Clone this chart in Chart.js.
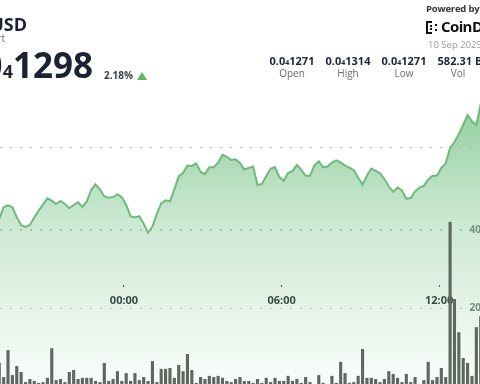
<!DOCTYPE html>
<html>
<head>
<meta charset="utf-8">
<script src="https://cdn.jsdelivr.net/npm/chart.js@4.4.1/dist/chart.umd.min.js"></script>
<style>
  html, body { margin: 0; padding: 0; width: 480px; height: 384px; overflow: hidden; background: #fff; font-family: "Open Sans", sans-serif; }
  #wrap { position: absolute; left: 0; top: 0; width: 483px; height: 386px; }
  .t { position: absolute; white-space: nowrap; line-height: 1; }
  .r { text-align: right; }
  #pair { right: 453px; top: 15px; font-size: 18px; font-weight: 700; color: #1b2232; }
  #sub { right: 475px; top: 33px; font-size: 10px; color: #6a6a6a; }
  #last { right: 387px; top: 47px; font-size: 35px; font-weight: 700; color: #1b2232; }
  #last span { font-size: 18px; }
  #chg { left: 104px; top: 70px; font-size: 10px; font-weight: 700; color: #3a3f48; }
  #tri { position: absolute; left: 137px; top: 72px; width: 0; height: 0; border-left: 5px solid transparent; border-right: 5px solid transparent; border-bottom: 8px solid #5cb85c; }
  #pow { left: 426px; top: 4px; font-size: 9.5px; font-weight: 700; color: #333; letter-spacing: -0.2px; }
  #logo { position: absolute; left: 426px; top: 21px; }
  #brand { left: 441px; top: 19px; font-size: 15px; font-weight: 700; color: #111; letter-spacing: -0.6px; }
  #date { left: 428px; top: 40px; font-size: 9.5px; color: #9a9a9a; }
  .sv { top: 55px; width: 70px; text-align: center; font-size: 11px; font-weight: 700; color: #1d2330; }
  .sv span { font-size: 7px; }
  .sl { top: 68px; width: 70px; text-align: center; font-size: 10px; color: #6b6b6b; }
</style>
</head>
<body>
<div id="wrap"><canvas id="c" width="483" height="386"></canvas></div>

<div class="t r" id="pair">SHIB/USD</div>
<div class="t r" id="sub">Price Chart</div>
<div class="t r" id="last">0.0<span>4</span>1298</div>
<div class="t" id="chg">2.18%</div>
<div id="tri"></div>

<div class="t" id="pow">Powered by</div>
<svg id="logo" width="13" height="13" viewBox="0 0 13 13">
  <rect x="0" y="0" width="6" height="2" fill="#111"/>
  <rect x="0" y="0" width="2" height="13" fill="#111"/>
  <rect x="0" y="11" width="6" height="2" fill="#111"/>
  <rect x="4" y="4" width="2" height="2" fill="#111"/>
  <rect x="4" y="7" width="2" height="2" fill="#111"/>
  <rect x="9" y="3" width="2" height="2" fill="#111"/>
  <rect x="9" y="8" width="2" height="2" fill="#111"/>
</svg>
<div class="t" id="brand">CoinDesk</div>
<div class="t" id="date">10 Sep 2025</div>

<div class="t sv" style="left:257px">0.0<span>4</span>1271</div>
<div class="t sl" style="left:257px">Open</div>
<div class="t sv" style="left:313px">0.0<span>4</span>1314</div>
<div class="t sl" style="left:313px">High</div>
<div class="t sv" style="left:369px">0.0<span>4</span>1271</div>
<div class="t sl" style="left:369px">Low</div>
<div class="t sv" style="left:425px">582.31 B</div>
<div class="t sl" style="left:423px">Vol</div>

<script>
// 10-minute candles, minutes from midnight; first visible candle centre is 19:15 the day before
const firstMinute = -285;

// price in units of 0.0₄ (1298 = 0.00001298)
const price = [
  1278.4, 1281.9, 1282.5, 1281.9, 1278.9, 1276.4, 1275.9, 1276.5, 1278.8, 1280.9,
  1282.7, 1284.6, 1283.9, 1282.9, 1283.8, 1282.9, 1281.6, 1282.6, 1283.4, 1282.0,
  1283.7, 1287.2, 1288.9, 1287.4, 1285.2, 1284.8, 1285.0, 1285.9, 1285.0, 1282.6,
  1279.2, 1278.8, 1279.2, 1276.9, 1274.1, 1276.0, 1279.9, 1283.1, 1284.0, 1283.7,
  1287.4, 1291.3, 1292.4, 1294.6, 1294.5, 1295.3, 1292.7, 1292.0, 1294.1, 1294.1,
  1295.5, 1297.9, 1297.3, 1296.3, 1296.5, 1295.4, 1293.4, 1293.9, 1294.3, 1288.7,
  1289.0, 1291.4, 1293.7, 1294.1, 1291.1, 1290.0, 1292.4, 1292.9, 1294.8, 1293.3,
  1291.5, 1291.5, 1294.7, 1295.9, 1294.1, 1294.3, 1295.5, 1296.2, 1295.6, 1294.6,
  1294.0, 1293.2, 1290.9, 1288.8, 1291.5, 1293.7, 1293.0, 1292.3, 1290.5, 1288.3,
  1286.6, 1287.9, 1287.0, 1284.5, 1284.7, 1286.7, 1287.9, 1288.4, 1290.3, 1291.5,
  1291.5, 1293.9, 1295.3, 1300.0, 1301.8, 1304.2, 1307.1, 1310.0, 1308.1, 1307.0,
  1313.4
];

// volume per candle, billions
const volume = [
  5.9, 2.3, 9.2, 2.8, 5.1, 3.6, 1.0, 1.8, 1.3, 0.8,
  1.0, 2.1, 9.7, 1.5, 1.8, 1.0, 3.6, 4.1, 1.8, 2.1,
  2.1, 2.1, 1.3, 1.0, 5.9, 1.3, 1.8, 3.8, 1.3, 3.3,
  1.3, 3.3, 1.5, 2.3, 1.3, 6.4, 1.0, 4.4, 4.4, 4.6,
  2.1, 5.4, 3.8, 8.2, 4.1, 0.8, 2.3, 1.8, 2.6, 2.3,
  2.6, 2.1, 1.3, 1.0, 1.8, 2.3, 1.3, 1.3, 0.8, 1.8,
  0.8, 2.1, 1.0, 2.1, 1.3, 1.3, 2.6, 1.3, 1.8, 0.8,
  2.3, 1.0, 0.5, 2.8, 0.8, 0.5, 2.6, 0.8, 6.2, 3.3,
  0.8, 1.0, 2.6, 9.5, 2.1, 2.1, 1.8, 1.0, 1.8, 3.8,
  3.1, 2.1, 1.0, 3.1, 1.0, 2.3, 0.5, 1.5, 6.2, 1.5,
  2.3, 4.6, 2.3, 42.1, 22.3, 13.8, 7.2, 5.9, 2.6, 15.1,
  17.9
];

const xTickMinutes = [0, 360, 720];
const xTickLabels = ['00:00', '06:00', '12:00'];
const priceGrid = [1275, 1300];
const volTicks = [20, 40];

const times = volume.map((v, i) => firstMinute + i * 10);

function areaFill(context) {
  const area = context.chart.chartArea;
  if (!area) return null;
  const g = context.chart.ctx.createLinearGradient(0, 100, 0, area.bottom);
  g.addColorStop(0, 'rgba(104,188,122,0.72)');
  g.addColorStop(0.45, 'rgba(104,188,122,0.32)');
  g.addColorStop(1, 'rgba(104,188,122,0.03)');
  return g;
}

const dots = { display: false, dash: [2, 8] };

new Chart(document.getElementById('c'), {
  type: 'bar',
  data: {
    datasets: [
      {
        type: 'bar',
        data: times.map((t, i) => ({ x: t, y: volume[i] })),
        yAxisID: 'yVol',
        backgroundColor: '#5f6860',
        barPercentage: 1,
        categoryPercentage: 0.72,
        order: 0
      },
      {
        type: 'line',
        data: times.map((t, i) => ({ x: t, y: price[i] })),
        yAxisID: 'yPrice',
        borderColor: '#6cba7c',
        borderWidth: 2,
        pointRadius: 0,
        tension: 0,
        fill: 'start',
        backgroundColor: areaFill,
        order: 1
      }
    ]
  },
  options: {
    responsive: false,
    animation: false,
    layout: { padding: 0 },
    plugins: { legend: { display: false }, tooltip: { enabled: false } },
    scales: {
      x: {
        type: 'linear',
        min: -283.3,
        max: 820.2,
        offset: false,
        position: { yVol: 25.9 },
        afterBuildTicks: s => { s.ticks = xTickMinutes.map(v => ({ value: v })); },
        grid: { offset: false, drawOnChartArea: false, drawTicks: true, tickLength: 2, tickWidth: 1.2, tickColor: '#555' },
        border: { display: false },
        ticks: {
          autoSkip: false, maxRotation: 0, padding: 7, color: '#2c313a',
          font: { family: 'Open Sans', size: 11, weight: 'bold' },
          callback: v => xTickLabels[xTickMinutes.indexOf(v)]
        }
      },
      yPrice: {
        position: 'left',
        min: 1227.4,
        max: 1345.1,
        afterBuildTicks: s => { s.ticks = priceGrid.map(v => ({ value: v })); },
        grid: { color: '#c4c4c4', lineWidth: 1, drawTicks: false },
        border: dots,
        ticks: { display: false }
      },
      yVol: {
        position: 'right',
        min: 0,
        max: 99,
        afterBuildTicks: s => { s.ticks = volTicks.map(v => ({ value: v })); },
        afterFit: s => { s.width = 0; s.paddingTop = 0; s.paddingBottom = 0; },
        grid: { color: '#c4c4c4', lineWidth: 1, drawTicks: false },
        border: dots,
        ticks: {
          mirror: true, padding: 18, crossAlign: 'near', color: '#7b7b7b',
          font: { family: 'Open Sans', size: 10, weight: 'bold' },
          callback: v => v + ',000'
        }
      }
    }
  }
});
</script>
</body>
</html>
